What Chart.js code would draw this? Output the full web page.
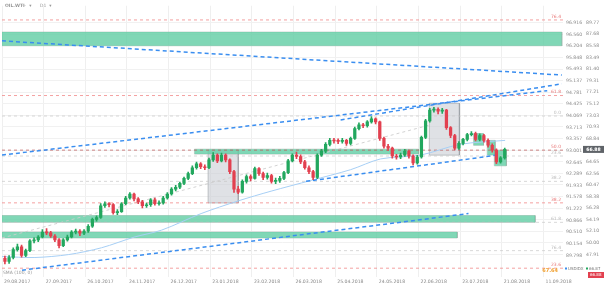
<!DOCTYPE html>
<html><head><meta charset="utf-8">
<script src="https://cdn.jsdelivr.net/npm/chart.js@4.4.0/dist/chart.umd.min.js"></script>
<style>html,body{margin:0;padding:0;background:#fff;overflow:hidden}</style>
</head><body>
<canvas id="c" width="605" height="287"></canvas>
<script>
// ---------- DATA ----------
const dateLabels = ['29.08.2017','27.09.2017','26.10.2017','24.11.2017','26.12.2017','23.01.2018','23.02.2018','26.03.2018','25.04.2018','24.05.2018','22.06.2018','23.07.2018','21.08.2018','11.09.2018'];
const wtiTicks = [47.91,50.00,52.10,54.19,56.28,58.38,60.47,62.56,64.65,66.75,68.84,70.93,73.03,75.12,77.21,79.31,81.40,83.49,85.58,87.68,89.77];
const idxTicks = [89.798,90.154,90.510,90.866,91.222,91.578,91.933,92.289,92.645,93.001,93.357,93.713,94.069,94.425,94.781,95.137,95.493,95.848,96.204,96.560,96.916];

const opens = [47.20,46.66,47.36,48.77,49.30,47.72,48.60,50.36,50.54,51.07,51.95,51.80,51.24,50.54,49.48,50.54,51.07,51.95,52.12,51.77,52.12,53.00,54.24,54.59,56.70,57.06,56.90,55.47,55.65,57.06,58.11,58.82,57.94,57.41,56.70,56.88,57.76,57.06,57.23,58.11,58.82,59.70,60.05,60.76,61.64,62.52,63.57,64.28,63.75,63.57,64.98,65.86,64.81,65.86,64.98,62.87,59.70,59.17,61.11,61.99,61.64,63.40,62.52,61.81,62.16,61.11,61.28,61.64,62.69,64.81,65.86,65.60,64.63,63.57,62.87,61.81,65.86,66.57,67.80,68.51,68.40,68.33,68.51,67.98,68.86,70.62,71.33,71.15,71.85,72.38,71.85,68.86,67.45,67.10,65.69,65.51,65.86,66.57,65.69,64.46,65.51,69.04,72.03,73.97,74.14,73.79,73.97,70.80,69.39,67.10,67.98,68.68,69.56,69.74,68.68,69.39,68.51,67.63,66.75,64.63,65.34];
const highs = [47.60,47.70,49.10,49.80,49.60,48.90,50.60,50.90,51.30,52.40,52.60,52.10,51.50,50.80,50.80,51.40,52.20,52.50,52.40,52.40,53.30,54.50,54.90,57.10,57.40,57.30,57.10,56.00,57.30,58.40,59.10,59.00,58.20,57.70,57.20,58.00,58.10,57.60,58.40,59.10,60.00,60.40,61.00,61.90,62.80,63.90,64.60,64.50,64.10,65.30,66.30,66.10,66.20,66.10,65.20,63.10,60.20,61.40,62.30,62.30,63.70,63.60,62.80,62.60,62.40,61.70,62.00,62.90,65.10,66.10,66.40,65.90,64.90,63.90,63.10,66.10,66.90,68.10,68.90,68.90,68.80,68.90,68.70,69.10,70.90,71.70,71.60,72.10,72.80,72.60,72.00,69.10,67.80,67.30,66.00,66.20,66.90,66.80,65.90,65.80,69.30,72.30,74.30,74.50,74.40,74.30,74.10,71.00,69.60,68.30,68.90,69.80,70.10,70.00,69.70,69.60,68.80,67.90,67.00,65.60,67.10];
const lows = [46.20,46.30,47.10,48.50,47.40,47.50,48.40,50.00,50.20,50.90,51.50,51.00,50.20,49.10,49.30,50.30,50.90,51.60,51.30,51.50,51.90,52.80,53.90,54.40,56.40,56.50,55.20,55.10,55.50,56.90,57.90,57.60,57.10,56.30,56.40,56.60,56.80,56.80,57.00,57.90,58.60,59.40,59.80,60.50,61.40,62.30,63.30,63.40,63.20,63.40,64.70,64.50,64.60,64.60,62.50,59.10,58.90,59.00,60.80,61.20,61.50,62.20,61.40,61.50,60.80,60.70,60.90,61.40,62.50,64.60,65.20,64.30,63.30,62.50,61.40,61.60,65.60,66.30,67.50,68.00,67.90,68.00,67.60,67.70,68.70,70.40,70.80,70.90,71.60,71.50,68.50,67.10,66.70,65.30,65.10,65.20,65.60,65.30,64.10,64.20,65.30,68.80,71.80,73.60,73.30,73.40,70.50,69.00,66.80,66.90,67.70,68.40,69.30,68.40,68.40,68.20,67.30,66.40,64.30,64.40,65.10];
const closes = [46.66,47.36,48.77,49.30,47.72,48.60,50.36,50.54,51.07,51.95,51.80,51.24,50.54,49.48,50.54,51.07,51.95,52.12,51.77,52.12,53.00,54.24,54.59,56.70,57.06,56.90,55.47,55.65,57.06,58.11,58.82,57.94,57.41,56.70,56.88,57.76,57.06,57.23,58.11,58.82,59.70,60.05,60.76,61.64,62.52,63.57,64.28,63.75,63.57,64.98,65.86,64.81,65.86,64.98,62.87,59.70,59.17,61.11,61.99,61.64,63.40,62.52,61.81,62.16,61.11,61.28,61.64,62.69,64.81,65.86,65.60,64.63,63.57,62.87,61.81,65.86,66.57,67.80,68.51,68.40,68.33,68.51,67.98,68.86,70.62,71.33,71.15,71.85,72.38,71.85,68.86,67.45,67.10,65.69,65.51,65.86,66.57,65.69,64.46,65.51,69.04,72.03,73.97,74.14,73.79,73.97,70.80,69.39,67.10,67.98,68.68,69.56,69.74,68.68,69.39,68.51,67.63,66.75,64.63,65.34,66.88];
const firstCandleX = 0.7;

// SMA(100) line
const maX = [0,7.9,16.0,23.9,31.8,38.3,47.8,56.7,64.6,74.2,83.7,90.9,100.5,110.0,120.8];
const maY = [47.54,47.36,47.89,49.12,51.06,52.30,55.29,57.58,59.34,61.28,63.22,65.16,65.86,67.80,68.51];

// zones [x1, x2, top, bottom]
const greenZones = [[0,134.4,88.06,85.60],[46.2,100.0,66.92,66.04],[0,128.0,54.94,53.71],[0,109.3,51.95,50.89],[113.2,115.6,69.74,67.62],[116.5,118.4,68.51,65.86],[118.2,121.1,66.75,63.92]];
const grayZones = [[49.5,56.7,66.75,57.23],[102.6,109.8,75.20,65.86]];

// trend lines [x1,y1,x2,y2]
const blueLines = [[0,86.48,134.4,80.31],[0,65.86,130.9,77.49],[81.3,72.21,134.4,78.72],[73.0,61.11,118.9,65.86],[4.8,45.07,112.0,55.29]];
const faintLines = [[0,50.89,102.9,71.32]];

// fibonacci / horizontal levels
const fibLevels = [90.26,76.61,72.91,66.75,65.69,61.11,57.23,53.71,48.60,45.43];
const fibNames  = ['76.4','61.8','0.0','50.0','23.6','38.2','38.2','61.8','76.4','23.6'];
const fibKinds  = ['red','red','gray','main','gray','gray','red','gray','gray','red'];
const lastPrice = 66.88;

// ---------- BUILD ----------
const GREEN = '#22a75e', RED = '#e2404f';
const candleColor = (ctx) => {
  const i = ctx.dataIndex;
  return closes[i] >= opens[i] ? GREEN : RED;
};
const wickData = closes.map((c,i)=>({x:firstCandleX+i, y:[lows[i],highs[i]]}));
const bodyData = closes.map((c,i)=>({x:firstCandleX+i, y:[opens[i],c]}));

const datasets = [];
datasets.push({type:'bar', data:wickData, backgroundColor:candleColor, barThickness:1, order:1, grouped:false});
datasets.push({type:'bar', data:bodyData, backgroundColor:candleColor, barThickness:2.6, order:0, grouped:false, minBarLength:1});

function addZone(z, fillCol, borderCol){
  datasets.push({type:'line', data:[{x:z[0],y:z[2]},{x:z[1],y:z[2]}], borderWidth:0, pointRadius:0,
    fill:{value:z[3]}, backgroundColor:fillCol, order:6});
  datasets.push({type:'line', data:[{x:z[0],y:z[2]},{x:z[1],y:z[2]},{x:z[1],y:z[3]},{x:z[0],y:z[3]},{x:z[0],y:z[2]}],
    borderWidth:1, borderColor:borderCol, pointRadius:0, fill:false, order:6});
}
greenZones.forEach(z=>addZone(z,'rgba(100,206,166,0.82)','rgba(150,170,160,0.55)'));
grayZones.forEach(z=>addZone(z,'rgba(196,201,207,0.55)','rgba(150,155,160,0.7)'));

fibLevels.forEach((v,i)=>{
  const k = fibKinds[i];
  const col = k==='red' ? 'rgba(240,130,130,0.75)' : k==='main' ? 'rgba(190,90,90,0.75)' : 'rgba(200,200,200,0.7)';
  datasets.push({type:'line', data:[{x:0,y:v},{x:134.69,y:v}], borderColor:col, borderWidth:1, borderDash:[3,3], pointRadius:0, fill:false, order:5});
});
faintLines.forEach(l=>datasets.push({type:'line', data:[{x:l[0],y:l[1]},{x:l[2],y:l[3]}], borderColor:'rgba(205,205,205,0.9)', borderWidth:1, borderDash:[3,3], pointRadius:0, fill:false, order:5}));
datasets.push({type:'line', data:maX.map((x,i)=>({x, y:maY[i]})), borderColor:'#a7cff5', borderWidth:1, pointRadius:0, fill:false, tension:0.3, order:3});
blueLines.forEach(l=>datasets.push({type:'line', data:[{x:l[0],y:l[1]},{x:l[2],y:l[3]}], borderColor:'#3a8ef0', borderWidth:1.5, borderDash:[4,3], pointRadius:0, fill:false, order:2}));

const textPlugin = {
  id:'texts',
  afterDraw(chart){
    const c = chart.ctx, ca = chart.chartArea, y = chart.scales.y;
    c.save();
    c.font = '4.5px "DejaVu Sans"';
    c.textBaseline = 'bottom';
    c.textAlign = 'right';
    fibLevels.forEach((v,i)=>{
      const k = fibKinds[i];
      c.fillStyle = k==='gray' ? '#bbb' : '#e87878';
      c.fillText(fibNames[i], ca.right-2, y.getPixelForValue(v)-1);
    });
    // price tag
    const py = y.getPixelForValue(lastPrice);
    c.fillStyle = '#5f6368';
    c.fillRect(583, py-3.5, 21, 7);
    c.fillStyle = '#fff'; c.textAlign='center'; c.textBaseline='middle';
    c.font = 'bold 4.6px "DejaVu Sans"';
    c.fillText(lastPrice.toFixed(2), 593.5, py);
    // header
    c.textAlign='left'; c.fillStyle='#999'; c.font='bold 4.5px "DejaVu Sans"';
    c.fillText('OIL.WTI', 5, 6);
    c.font='4.5px "DejaVu Sans"';
    c.fillText('···  ▾      D1  ▾', 22, 6);
    c.fillText('SMA (100, 0)', 3, 273);
    // bottom right legend
    c.fillStyle='#f0a030'; c.textAlign='right'; c.font='bold 5px "DejaVu Sans"';
    c.fillText('67.64', 558, 271);
    c.textAlign='left'; c.font='4px "DejaVu Sans"';
    c.fillStyle='#3a8ef0'; c.fillRect(565,267.5,2,2);
    c.fillStyle='#777'; c.fillText('USDIDX', 568, 268.5);
    c.fillStyle='#22a75e'; c.fillRect(586,267.5,2,2);
    c.fillStyle='#777'; c.fillText('66.87', 589, 268.5);
    c.fillStyle='#e2404f'; c.fillRect(588,272,16,6);
    c.fillStyle='#fff'; c.fillText('66.88', 590, 275);
    c.restore();
  }
};

new Chart(document.getElementById('c'), {
  type:'bar',
  data:{datasets},
  options:{
    responsive:false, animation:false, devicePixelRatio:1,
    layout:{padding:0},
    plugins:{legend:{display:false}, tooltip:{enabled:false}, title:{display:false}},
    scales:{
      x:{type:'linear', min:0, max:134.69, offset:false, position:'bottom',
        grid:{color:'#efefef', offset:false, drawTicks:false}, border:{display:false},
        afterBuildTicks:(s)=>{ s.ticks = dateLabels.map((d,i)=>({value:i*10})); },
        afterFit:(s)=>{ s.height = 10; },
        ticks:{align:'start', labelOffset:2, padding:2, maxRotation:0, autoSkip:false, color:'#888', font:{size:4.6, family:'DejaVu Sans'},
          callback:(v)=>dateLabels[Math.round(v/10)]}
      },
      y:{type:'linear', position:'right', weight:1, min:43.84, max:92.82,
        grid:{color:'#f1f1f1', drawTicks:false}, border:{display:false},
        afterBuildTicks:(s)=>{ s.ticks = wtiTicks.map(v=>({value:v})); },
        afterFit:(s)=>{ s.width = 22; },
        ticks:{padding:3, color:'#888', font:{size:4.6, family:'DejaVu Sans'}, callback:(v)=>v.toFixed(2)}
      },
      y2:{type:'linear', position:'right', weight:0, min:89.136, max:97.434,
        grid:{display:false, drawTicks:false}, border:{display:false},
        afterBuildTicks:(s)=>{ s.ticks = idxTicks.map(v=>({value:v})); },
        afterFit:(s)=>{ s.width = 20; },
        ticks:{padding:3, color:'#888', font:{size:4.6, family:'DejaVu Sans'}, callback:(v)=>v.toFixed(3)}
      }
    }
  },
  plugins:[textPlugin]
});
</script>
</body></html>
